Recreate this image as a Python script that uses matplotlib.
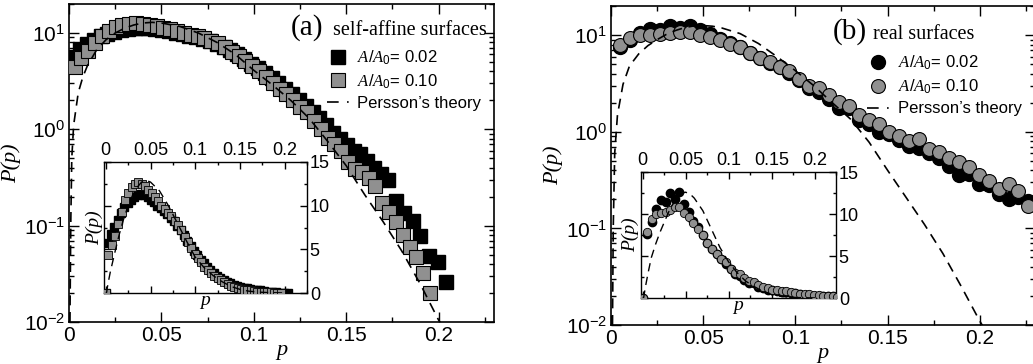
import numpy as np
import matplotlib
matplotlib.use("Agg")
import matplotlib.pyplot as plt
from matplotlib.lines import Line2D
from matplotlib.ticker import MultipleLocator, LogLocator, NullFormatter, FuncFormatter

plt.rcParams['font.family'] = ['Liberation Sans', 'DejaVu Sans']
plt.rcParams['mathtext.fontset'] = 'custom'
plt.rcParams['mathtext.rm'] = 'Liberation Sans'
plt.rcParams['mathtext.it'] = 'Liberation Serif:italic'
plt.rcParams['mathtext.bf'] = 'Liberation Sans:bold'

# ------------------ DATOS (a) self-affine ------------------
p_a02 = [0.0023, 0.006, 0.0097, 0.0134, 0.0171, 0.0208, 0.0245, 0.0282, 0.0319, 0.0356,
         0.0393, 0.043, 0.0467, 0.0504, 0.0541, 0.0578, 0.0615, 0.0652, 0.0689, 0.0726,
         0.0763, 0.08, 0.0837, 0.0874, 0.0911, 0.0948, 0.0985, 0.1022, 0.1059, 0.1096,
         0.1133, 0.117, 0.1207, 0.1244, 0.1281, 0.1318, 0.1355, 0.1392, 0.1429, 0.1466,
         0.1503, 0.154, 0.1577, 0.1614, 0.1651, 0.1688, 0.1725, 0.1769, 0.1815, 0.186,
         0.190, 0.195, 0.1995, 0.204]
P_a02 = [5.7, 6.8, 7.6, 8.4, 9.2, 9.8, 10.3, 10.7, 11.0, 11.2,
         11.3, 11.2, 11.0, 10.7, 10.4, 10.0, 9.7, 9.4, 9.0, 8.6,
         8.2, 7.7, 7.2, 6.6, 6.0, 5.4, 4.8, 4.3, 3.8, 3.4,
         3.0, 2.6, 2.3, 2.0, 1.75, 1.5, 1.3, 1.1, 0.92, 0.80,
         0.68, 0.60, 0.55, 0.47, 0.40, 0.34, 0.30, 0.18, 0.135, 0.112,
         0.078, 0.049, 0.042, 0.026]

p_a10 = [0.003, 0.0067, 0.0104, 0.0141, 0.0178, 0.0215, 0.0252, 0.0289, 0.0326, 0.0363,
         0.04, 0.0437, 0.0474, 0.0511, 0.0548, 0.0585, 0.0622, 0.0659, 0.0696, 0.0733,
         0.077, 0.0807, 0.0844, 0.0881, 0.0918, 0.0955, 0.0992, 0.1029, 0.1066, 0.1103,
         0.114, 0.1177, 0.1214, 0.1251, 0.1288, 0.1325, 0.1362, 0.1399, 0.1436, 0.1473,
         0.151, 0.1547, 0.1584, 0.1621, 0.1658, 0.1695, 0.1732, 0.1769, 0.1806, 0.1843,
         0.188, 0.1917, 0.1954]
P_a10 = [4.4, 5.5, 6.5, 7.9, 9.3, 10.6, 11.5, 12.1, 12.5, 12.7,
         12.5, 12.2, 11.8, 11.4, 11.0, 10.5, 10.0, 9.6, 9.2, 8.8,
         8.3, 7.8, 7.2, 6.4, 5.8, 5.1, 4.5, 4.0, 3.5, 3.0,
         2.65, 2.3, 2.0, 1.7, 1.5, 1.22, 1.02, 0.82, 0.70, 0.60,
         0.46, 0.39, 0.36, 0.31, 0.26, 0.17, 0.14, 0.11, 0.08, 0.06,
         0.047, 0.032, 0.020]

p_teo_a = [0.0005, 0.001, 0.0015, 0.0025, 0.005, 0.0075, 0.01, 0.015, 0.02, 0.025,
           0.03, 0.035, 0.04, 0.045, 0.05, 0.06, 0.07, 0.08, 0.09, 0.1,
           0.11, 0.12, 0.13, 0.14, 0.15, 0.16, 0.17, 0.18, 0.19, 0.2, 0.203]
P_teo_a = [0.01, 0.12, 0.5, 1.1, 2.4, 3.5, 4.6, 6.7, 8.5, 10.0,
           11.2, 12.1, 12.7, 12.9, 12.7, 11.7, 10.0, 8.0, 6.0, 4.1,
           2.9, 2.0, 1.3, 0.75, 0.42, 0.21, 0.11, 0.055, 0.025, 0.0105, 0.0085]

# ------------------ DATOS (b) real ------------------
p_b = [0.0049, 0.0103, 0.0157, 0.0211, 0.0266, 0.032, 0.0374, 0.0428, 0.0482, 0.0536,
       0.059, 0.0644, 0.0698, 0.0752, 0.0806, 0.086, 0.0914, 0.0968, 0.1022, 0.1076,
       0.113, 0.1184, 0.1238, 0.1292, 0.1346, 0.14, 0.1454, 0.1508, 0.1562, 0.1616,
       0.167, 0.1724, 0.1778, 0.1832, 0.1886, 0.194, 0.1994, 0.2048, 0.2102, 0.2156,
       0.221, 0.2264]
P_b02 = [7.6, 9.0, 10.6, 11.7, 11.4, 12.5, 11.8, 12.6, 11.2, 10.2,
         9.2, 8.4, 7.5, 6.5, 5.8, 5.2, 4.7, 4.1, 3.4, 2.85,
         2.6, 2.2, 1.76, 1.75, 1.33, 1.2, 1.0, 0.95, 0.82, 0.72,
         0.68, 0.60, 0.54, 0.44, 0.36, 0.37, 0.29, 0.28, 0.226, 0.20,
         0.21, 0.19]
P_b10 = [7.9, 9.4, 10.0, 10.1, 10.2, 10.5, 10.8, 10.8, 10.1, 9.6,
         8.9, 8.2, 7.5, 6.6, 5.8, 5.3, 4.7, 4.3, 3.5, 3.0,
         2.85, 2.4, 2.05, 1.85, 1.5, 1.32, 1.2, 1.0, 0.90, 0.80,
         0.84, 0.66, 0.62, 0.53, 0.49, 0.43, 0.36, 0.31, 0.255, 0.29,
         0.245, 0.17]

p_teo_b = [0.0008, 0.0012, 0.002, 0.0035, 0.0065, 0.01, 0.015, 0.02, 0.025, 0.03,
           0.035, 0.04, 0.045, 0.05, 0.055, 0.06, 0.07, 0.08, 0.09, 0.1,
           0.11, 0.12, 0.13, 0.14, 0.15, 0.16, 0.17, 0.18, 0.19, 0.2, 0.202]
P_teo_b = [0.01, 0.1, 0.6, 1.5, 3.1, 4.8, 6.4, 7.8, 9.0, 10.2,
           11.2, 12.0, 12.5, 12.6, 12.4, 11.9, 10.4, 8.2, 6.0, 4.3,
           3.0, 2.0, 1.35, 0.78, 0.40, 0.21, 0.11, 0.055, 0.025, 0.011, 0.0095]

GRIS = '#909090'

def fmt_x(v, pos):
    return '%g' % round(v, 4)

def ejes_principales(fig, rect):
    ax = fig.add_axes(rect)
    ax.set_yscale('log')
    ax.set_xlim(0, 0.23)
    ax.set_ylim(0.01, 20)
    ax.xaxis.set_major_locator(MultipleLocator(0.05))
    ax.xaxis.set_minor_locator(MultipleLocator(0.025))
    ax.xaxis.set_major_formatter(FuncFormatter(fmt_x))
    ax.yaxis.set_major_locator(LogLocator(base=10, numticks=10))
    ax.yaxis.set_minor_locator(LogLocator(base=10, subs=np.arange(2, 10), numticks=10))
    ax.yaxis.set_minor_formatter(NullFormatter())
    ax.tick_params(which='both', direction='in', top=True, right=True, labelsize=15, pad=3)
    ax.tick_params(which='major', length=7, width=1)
    ax.tick_params(which='minor', length=3.5, width=1)
    for s in ax.spines.values():
        s.set_linewidth(1.2)
    ax.set_xlabel('p', fontfamily='Liberation Serif', style='italic', fontsize=16, labelpad=-3)
    ax.set_ylabel('P(p)', fontfamily='Liberation Serif', style='italic', fontsize=16, labelpad=2)
    return ax

def ejes_inset(fig, rect):
    ax = fig.add_axes(rect)
    ax.set_xlim(-0.002, 0.225)
    ax.set_ylim(0, 15)
    ax.xaxis.set_major_locator(MultipleLocator(0.05))
    ax.xaxis.set_minor_locator(MultipleLocator(0.025))
    ax.xaxis.set_major_formatter(FuncFormatter(fmt_x))
    ax.yaxis.set_major_locator(MultipleLocator(5))
    ax.yaxis.set_minor_locator(MultipleLocator(2.5))
    ax.tick_params(which='both', direction='in', top=True, right=True,
                   labeltop=True, labelbottom=False, labelleft=False, labelright=True,
                   labelsize=13, pad=2)
    ax.tick_params(which='major', length=5, width=1)
    ax.tick_params(which='minor', length=2.5, width=1)
    for s in ax.spines.values():
        s.set_linewidth(1)
    ax.set_xlabel('p', fontfamily='Liberation Serif', style='italic', fontsize=14, labelpad=-1)
    ax.set_ylabel('P(p)', fontfamily='Liberation Serif', style='italic', fontsize=14, labelpad=1)
    return ax

def leyenda(ax, marker, ms, anchor):
    h = [Line2D([0], [0], ls='none', marker=marker, ms=ms, mfc='black', mec='black'),
         Line2D([0], [0], ls='none', marker=marker, ms=ms, mfc=GRIS, mec='black', mew=0.8),
         Line2D([0], [0], color='black', lw=1.2, dashes=(7, 5, 1, 5))]
    lab = [r'$\mathit{A/A}_{\mathrm{0}}$= 0.02', r'$\mathit{A/A}_{\mathrm{0}}$= 0.10',
           'Persson\u2019s theory']
    ax.legend(h, lab, loc='upper left', bbox_to_anchor=anchor, frameon=False,
              fontsize=12, handlelength=1.4, handletextpad=0.45, borderpad=0,
              borderaxespad=0, labelspacing=0.32)

fig = plt.figure(figsize=(10.33, 3.64), dpi=100)

# ------------------ PANEL (a) ------------------
ax = ejes_principales(fig, [0.0668, 0.1154, 0.4114, 0.8736])
ax.plot(p_a02, P_a02, ls='none', marker='s', ms=9.5, mfc='black', mec='black', zorder=2)
ax.plot(p_a10, P_a10, ls='none', marker='s', ms=9.5, mfc=GRIS, mec='black', mew=0.8, zorder=3)
ax.plot(p_teo_a, P_teo_a, color='black', lw=1.2, dashes=(6, 4), zorder=4)
ax.text(0.522, 0.9025, '(a)', transform=ax.transAxes, fontfamily='Liberation Serif', fontsize=21, va='baseline')
ax.text(0.621, 0.9025, 'self-affine surfaces', transform=ax.transAxes, fontfamily='Liberation Serif', fontsize=14.5, va='baseline')
leyenda(ax, 's', 9.5, (0.606, 0.86))

ins = ejes_inset(fig, [0.1007, 0.195, 0.1965, 0.360])
ins.plot(np.r_[0.0, p_a02], np.r_[0.0, P_a02], ls='none', marker='s', ms=5.5, mfc='black', mec='black', zorder=2)
ins.plot(np.r_[0.0, p_a10], np.r_[0.0, P_a10], ls='none', marker='s', ms=5.5, mfc=GRIS, mec='black', mew=0.6, zorder=3)
ins.plot(np.r_[0.0, p_teo_a], np.r_[0.0, P_teo_a], color='black', lw=1.0, dashes=(6, 4), zorder=4)

# ------------------ PANEL (b) ------------------
bx = ejes_principales(fig, [0.5915, 0.1071, 0.4105, 0.876])
bx.plot(p_b, P_b02, ls='none', marker='o', ms=10, mfc='black', mec='black', zorder=2)
bx.plot(p_b, P_b10, ls='none', marker='o', ms=10, mfc=GRIS, mec='black', mew=0.8, zorder=3)
bx.plot(p_teo_b, P_teo_b, color='black', lw=1.2, dashes=(6, 4), zorder=4)
bx.text(0.5236, 0.8966, '(b)', transform=bx.transAxes, fontfamily='Liberation Serif', fontsize=21, va='baseline')
bx.text(0.618, 0.8966, 'real surfaces', transform=bx.transAxes, fontfamily='Liberation Serif', fontsize=14.5, va='baseline')
leyenda(bx, 'o', 10, (0.603, 0.85))

ins_b = ejes_inset(fig, [0.6205, 0.1813, 0.1888, 0.346])
ins_b.plot(np.r_[0.0, p_b], np.r_[0.0, P_b02], ls='none', marker='o', ms=6, mfc='black', mec='black', zorder=2)
ins_b.plot(np.r_[0.0, p_b], np.r_[0.0, P_b10], ls='none', marker='o', ms=6, mfc=GRIS, mec='black', mew=0.6, zorder=3)
ins_b.plot(np.r_[0.0, p_teo_b], np.r_[0.0, P_teo_b], color='black', lw=1.0, dashes=(6, 4), zorder=4)

fig.savefig('out.png', dpi=100)
